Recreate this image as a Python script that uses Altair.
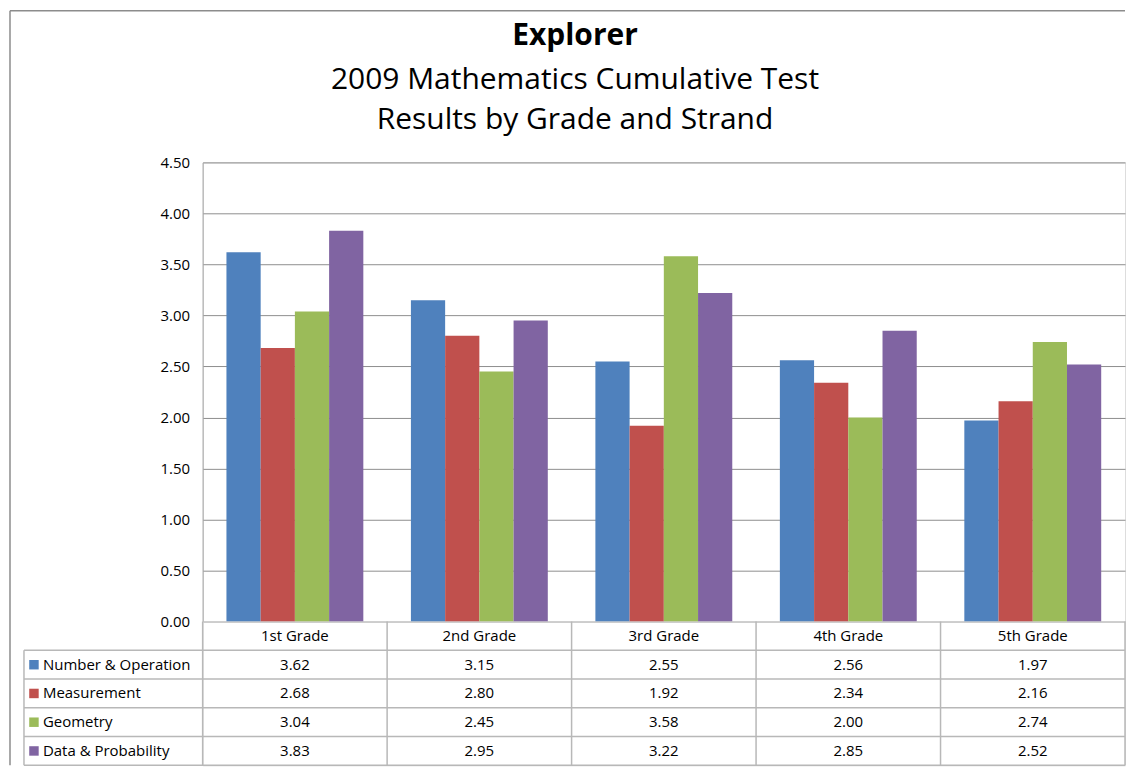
import altair as alt
import pandas as pd

FONT = "Open Sans"

grades = ["1st Grade", "2nd Grade", "3rd Grade", "4th Grade", "5th Grade"]
series = ["Number & Operation", "Measurement", "Geometry", "Data & Probability"]
colors = ["#4F81BD", "#C0504D", "#9BBB59", "#8064A2"]

number_operation = [3.62, 3.15, 2.55, 2.56, 1.97]
measurement = [2.68, 2.80, 1.92, 2.34, 2.16]
geometry = [3.04, 2.45, 3.58, 2.00, 2.74]
data_probability = [3.83, 2.95, 3.22, 2.85, 2.52]

y_ticks = [0.0, 0.5, 1.0, 1.5, 2.0, 2.5, 3.0, 3.5, 4.0, 4.5]

rows = []
for s, vals in zip(series, [number_operation, measurement, geometry, data_probability]):
    for g, v in zip(grades, vals):
        rows.append({"grade": g, "series": s, "value": v, "row": s, "text": f"{v:.2f}"})
df = pd.DataFrame(rows)

HDR = " "
row_domain = [HDR] + series
header_df = pd.DataFrame({"grade": grades, "row": [HDR] * len(grades), "text": grades})
series_df = pd.DataFrame({"series": series, "row": series})
first_df = pd.DataFrame({"row": [series[0]]})
last_df = pd.DataFrame({"row": [series[-1]]})
grade_df = pd.DataFrame({"grade": grades})
one_df = pd.DataFrame({"k": [0]})

LINE = "#b8b8b8"
LW = 1.5
W, H = 924, 460
TH = 144
LEFT = -179
FRAME_X = -193
FRAME_Y = -152
FS = 15

color = alt.Color("series:N", scale=alt.Scale(domain=series, range=colors), legend=None)

bars = alt.Chart(df).mark_bar().encode(
    x=alt.X("grade:N", sort=grades,
            scale=alt.Scale(domain=grades, paddingInner=0.258, paddingOuter=0.129), axis=None),
    xOffset=alt.XOffset("series:N", sort=series,
                        scale=alt.Scale(domain=series, paddingInner=0, paddingOuter=0)),
    y=alt.Y("value:Q", scale=alt.Scale(domain=[0, 4.5], nice=False),
            axis=alt.Axis(values=y_ticks, format=".2f", title=None, ticks=False,
                          labelPadding=13, labelFontSize=FS, labelFont=FONT,
                          labelColor="#000000", gridColor="#8e8e8e",
                          domainColor="#a6a6a6", labelFlush=False)),
    color=color,
).properties(
    width=W, height=H,
    title=alt.TitleParams(
        text="Explorer",
        subtitle=["2009 Mathematics Cumulative Test", "Results by Grade and Strand"],
        font=FONT, fontSize=30, fontWeight="bold", color="#000000",
        subtitleFont=FONT, subtitleFontSize=30, subtitleColor="#000000",
        subtitleLineHeight=41, subtitlePadding=14, anchor="middle", frame="group",
        offset=20, dx=-89,
    ),
)


def xg(**kw):
    return alt.X("grade:N", sort=grades,
                 scale=alt.Scale(domain=grades, paddingInner=0, paddingOuter=0),
                 axis=None, **kw)


def yr(**kw):
    return alt.Y("row:N", scale=alt.Scale(domain=row_domain, paddingInner=0, paddingOuter=0),
                 axis=None, **kw)


cells = alt.Chart(df).mark_text(font=FONT, fontSize=FS, color="#000000", baseline="middle").encode(
    x=xg(), y=yr(), text="text:N")
headers = alt.Chart(header_df).mark_text(font=FONT, fontSize=FS, color="#000000", baseline="middle").encode(
    x=xg(), y=yr(), text="text:N")
labels = alt.Chart(series_df).mark_text(font=FONT, fontSize=FS, color="#000000",
                                         align="left", baseline="middle").encode(
    x=alt.value(LEFT + 19), y=yr(), text="series:N")
swatches = alt.Chart(series_df).mark_square(size=90, opacity=1, filled=True).encode(
    x=alt.value(LEFT + 10), y=yr(), color=color)
hrules = alt.Chart(series_df).mark_rule(color=LINE, strokeWidth=LW).encode(
    y=yr(bandPosition=0), x=alt.value(LEFT), x2=alt.value(W))
hbottom = alt.Chart(last_df).mark_rule(color=LINE, strokeWidth=LW).encode(
    y=yr(bandPosition=1), x=alt.value(LEFT), x2=alt.value(W))
vrules = alt.Chart(grade_df).mark_rule(color=LINE, strokeWidth=LW).encode(
    x=xg(bandPosition=0), y=alt.value(0), y2=alt.value(TH))
vright = alt.Chart(grade_df.tail(1)).mark_rule(color=LINE, strokeWidth=LW).encode(
    x=xg(bandPosition=1), y=alt.value(0), y2=alt.value(TH))
vleft = alt.Chart(first_df).mark_rule(color=LINE, strokeWidth=LW).encode(
    x=alt.value(LEFT), y=yr(bandPosition=0), y2=alt.value(TH))

# outer chart frame (top and left edges visible in the reference)
frame_top = alt.Chart(one_df).mark_rule(color="#8c8c8c", strokeWidth=1.5).encode(
    x=alt.value(FRAME_X), x2=alt.value(W), y=alt.value(FRAME_Y - H))
frame_left = alt.Chart(one_df).mark_rule(color="#8c8c8c", strokeWidth=1.5).encode(
    x=alt.value(FRAME_X), y=alt.value(FRAME_Y - H), y2=alt.value(TH))

table = alt.layer(frame_top, frame_left, hrules, hbottom, vrules, vright, vleft,
                  swatches, labels, headers, cells).properties(width=W, height=TH)

chart = alt.vconcat(bars, table, spacing=0, bounds="flush").resolve_scale(
    x="independent", y="independent", color="independent", xOffset="independent"
).properties(
    padding={"left": 0, "top": 0, "right": 0, "bottom": 0},
).configure_view(stroke=None).configure(background="white")

chart.save("out.html", embed_options={"renderer": "svg", "actions": False})
